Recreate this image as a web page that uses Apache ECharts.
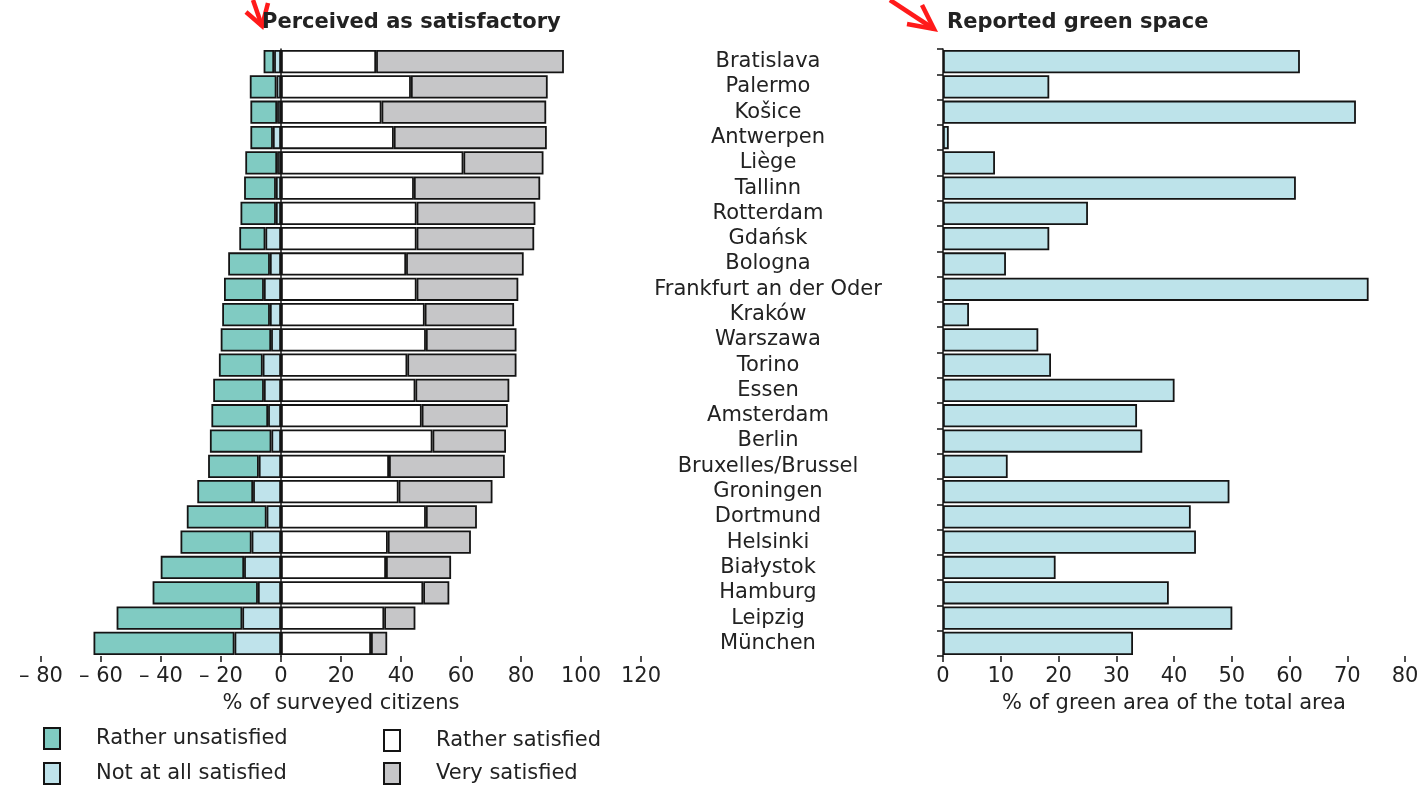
<!DOCTYPE html>
<html>
<head>
<meta charset="utf-8">
<script src="https://cdn.jsdelivr.net/npm/echarts@6/dist/echarts.min.js"></script>
<style>
html,body{margin:0;padding:0;background:#fff;}
#chart{width:1425px;height:786px;}
</style>
</head>
<body>
<div id="chart"></div>
<script>
const cities = ['Bratislava','Palermo','Košice','Antwerpen','Liège','Tallinn','Rotterdam','Gdańsk','Bologna','Frankfurt an der Oder','Kraków','Warszawa','Torino','Essen','Amsterdam','Berlin','Bruxelles/Brussel','Groningen','Dortmund','Helsinki','Białystok','Hamburg','Leipzig','München'];
const ratherUnsatisfied = [3.5,8.9,8.9,7.5,10.6,10.6,11.8,8.7,13.9,13.3,15.9,16.8,14.6,16.9,18.9,20.5,16.9,18.6,26.6,23.7,27.8,35.1,41.9,47.0];
const notAtAllSatisfied = [2.3,1.5,1.3,2.7,1.3,1.7,1.7,5.2,3.7,5.7,3.7,3.3,6.1,5.7,4.3,3.2,7.4,9.3,4.8,9.8,12.3,7.7,12.9,15.5];
const ratherSatisfied = [31.7,43.3,33.5,37.6,60.8,44.3,45.2,45.2,41.7,45.2,47.9,48.3,42.1,44.8,46.9,50.5,36.0,39.2,48.3,35.6,35.0,47.4,34.4,30.0];
const verySatisfied = [62.6,45.6,54.9,51.0,26.7,42.1,39.6,39.2,39.2,33.9,29.8,30.2,36.4,31.3,28.7,24.5,38.6,31.3,17.0,27.7,21.7,8.7,10.4,5.4];
const greenSpace = [61.8,18.4,71.5,1.0,9.0,61.1,25.1,18.4,10.9,73.7,4.5,16.5,18.7,40.1,33.6,34.5,11.2,49.6,42.9,43.8,19.5,39.1,50.1,32.9];

const FONT = 'DejaVu Sans';
const TXT = '#222';
const FS = 21;
const border = {borderColor:'#141414', borderWidth:1.8};
const chart = echarts.init(document.getElementById('chart'));

const leftBar = (name, data, color, neg) => ({
  name, type:'bar', xAxisIndex:0, yAxisIndex:0, stack:'sat',
  barCategoryGap:'8%',
  data: neg ? data.map(v => -v) : data,
  itemStyle: Object.assign({color}, border)
});

const legendItem = (name, left, top) => ({
  left, top, orient:'horizontal', itemWidth:16, itemHeight:21, icon:'rect',
  data:[name], padding:0,
  textStyle:{fontFamily:FONT, fontSize:FS, color:TXT, padding:[0,0,0,31]}
});

chart.setOption({
  animation:false,
  textStyle:{fontFamily:FONT},
  title:[
    {text:'Perceived as satisfactory', left:257, top:7, textStyle:{fontFamily:FONT, fontSize:21, fontWeight:'bold', color:TXT}},
    {text:'Reported green space', left:942, top:7, textStyle:{fontFamily:FONT, fontSize:21, fontWeight:'bold', color:TXT}}
  ],
  legend:[
    legendItem('Rather unsatisfied', 43, 727),
    legendItem('Not at all satisfied', 43, 762),
    legendItem('Rather satisfied', 383, 729),
    legendItem('Very satisfied', 383, 762)
  ],
  grid:[
    {left:41, right:784, top:49, bottom:130},
    {left:943, right:20, top:49, bottom:130}
  ],
  xAxis:[
    {type:'value', gridIndex:0, min:-80, max:120, interval:20,
     name:'% of surveyed citizens', nameLocation:'middle', nameGap:37,
     nameTextStyle:{fontFamily:FONT, fontSize:FS, color:TXT},
     axisLine:{lineStyle:{color:'#141414', width:1.5}},
     axisTick:{show:true, length:6, lineStyle:{color:'#141414', width:1.5}},
     axisLabel:{fontFamily:FONT, fontSize:FS, color:TXT, margin:10,
       formatter: v => v < 0 ? '– ' + (-v) : String(v)},
     splitLine:{show:false}},
    {type:'value', gridIndex:1, min:0, max:80, interval:10,
     name:'% of green area of the total area', nameLocation:'middle', nameGap:37,
     nameTextStyle:{fontFamily:FONT, fontSize:FS, color:TXT},
     axisLine:{lineStyle:{color:'#141414', width:1.5}},
     axisTick:{show:true, length:6, lineStyle:{color:'#141414', width:1.5}},
     axisLabel:{fontFamily:FONT, fontSize:FS, color:TXT, margin:10},
     splitLine:{show:false}}
  ],
  yAxis:[
    {type:'category', gridIndex:0, data:cities, inverse:true,
     axisLine:{show:true, onZero:true, lineStyle:{color:'#141414', width:1.5}},
     axisTick:{show:false}, axisLabel:{show:false}},
    {type:'category', gridIndex:1, data:cities, inverse:true,
     axisLine:{show:true, lineStyle:{color:'#141414', width:1.5}},
     axisTick:{show:true, length:6, inside:false, lineStyle:{color:'#141414', width:1.5}},
     axisLabel:{fontFamily:FONT, fontSize:FS, color:TXT, align:'center', margin:175, interval:0}}
  ],
  series:[
    leftBar('Not at all satisfied', notAtAllSatisfied, '#bfe3eb', true),
    leftBar('Rather unsatisfied', ratherUnsatisfied, '#80cbc2', true),
    leftBar('Rather satisfied', ratherSatisfied, '#ffffff', false),
    leftBar('Very satisfied', verySatisfied, '#c6c6c8', false),
    {name:'Green space', type:'bar', xAxisIndex:1, yAxisIndex:1, barCategoryGap:'8%',
     data:greenSpace, itemStyle:Object.assign({color:'#bde3ea'}, border)}
  ],
  graphic:[
    {type:'polyline', shape:{points:[[253,0],[262,26]]}, style:{stroke:'#ff1a1a', lineWidth:4.5, fill:null}},
    {type:'polyline', shape:{points:[[246,12],[262,26],[268,3]]}, style:{stroke:'#ff1a1a', lineWidth:4.5, fill:null, lineJoin:'miter'}},
    {type:'polyline', shape:{points:[[890,0],[934,29]]}, style:{stroke:'#ff1a1a', lineWidth:4.5, fill:null}},
    {type:'polyline', shape:{points:[[907,24],[934,29],[922,5]]}, style:{stroke:'#ff1a1a', lineWidth:4.5, fill:null, lineJoin:'miter'}}
  ]
});
</script>
</body>
</html>
